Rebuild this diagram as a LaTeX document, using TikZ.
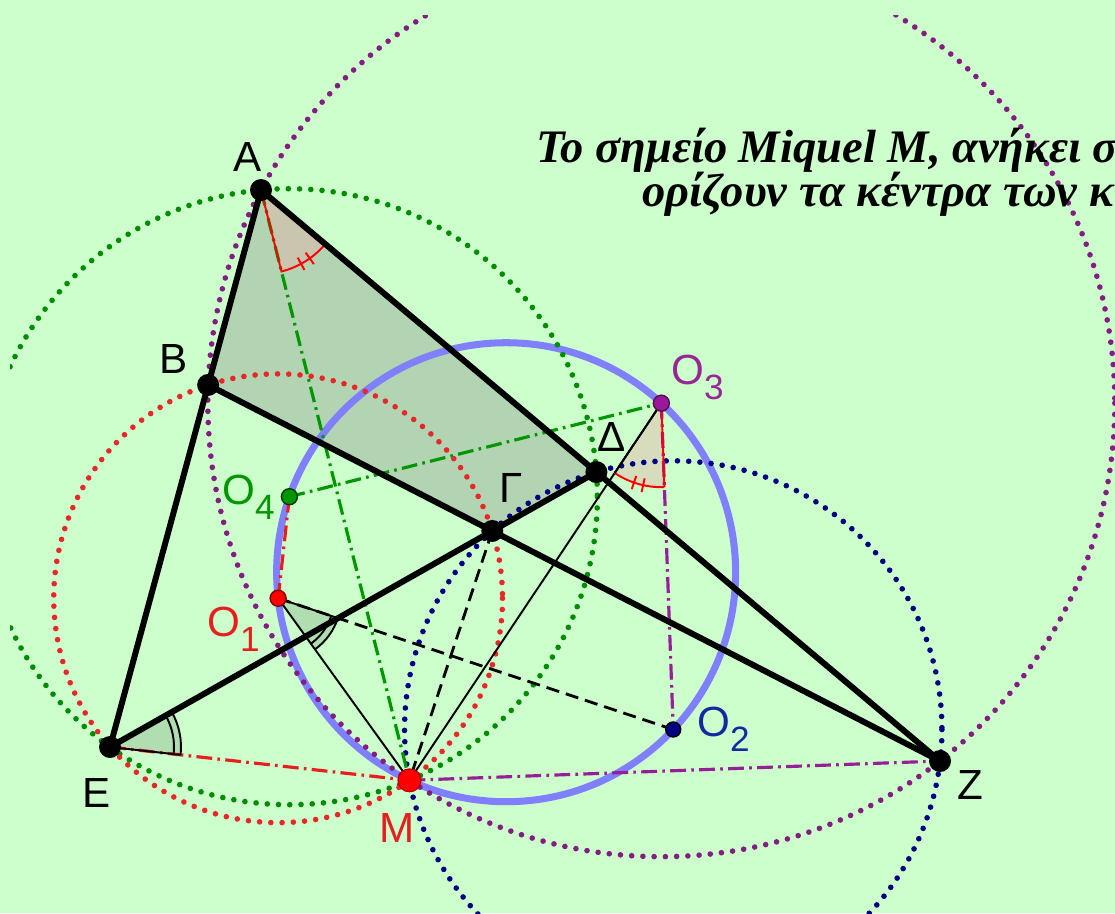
\documentclass[tikz,border=0pt]{standalone}
\usepackage{fontspec}
\setmainfont{Liberation Serif}
\newfontfamily\labfont{Liberation Sans}
\usetikzlibrary{calc}
\definecolor{bgcol}{RGB}{204,255,204}
\definecolor{polycol}{RGB}{178,212,178}
\definecolor{miqcol}{RGB}{128,128,255}
\definecolor{purpcol}{RGB}{130,30,130}
\definecolor{grncol}{RGB}{0,140,0}
\definecolor{redcol}{RGB}{230,40,40}
\definecolor{bluecol}{RGB}{0,0,130}
\definecolor{purpdd}{RGB}{150,30,150}
\definecolor{grndd}{RGB}{0,150,0}
\definecolor{lbred}{RGB}{230,30,30}
\definecolor{lbblue}{RGB}{20,40,160}
\definecolor{lbpurp}{RGB}{150,40,150}
\definecolor{lbgrn}{RGB}{0,150,0}
\definecolor{tancol}{RGB}{230,180,170}
\newcommand{\myidx}[1]{\raisebox{-9pt}{\fontsize{20}{20}\selectfont #1}}
\tikzset{
  dotcirc/.style={line width=3.2pt, dash pattern=on 0pt off 6.4pt, line cap=round},
  dashdot/.style={line width=1.8pt, dash pattern=on 9pt off 3pt on 1.5pt off 3pt},
  dashblack/.style={line width=1.6pt, dash pattern=on 7.5pt off 4pt, black},
  thickline/.style={line width=3.4pt, black, line cap=round},
  thinline/.style={line width=1.1pt, black},
  lab/.style={font=\labfont\fontsize{24}{24}\selectfont, inner sep=0pt},
  ttl/.style={font=\bfseries\itshape\fontsize{26.5}{30}\selectfont, inner sep=0pt, anchor=base west},
  redsector/.style={fill=tancol, fill opacity=0.45},
  graysector/.style={fill=black, fill opacity=0.13},
}
\begin{document}
\begin{tikzpicture}[x=0.02cm, y=-0.02cm]
\useasboundingbox (0,0) rectangle (1115,913);
\fill[bgcol] (0,0) rectangle (1115,913);
% points
\coordinate (A) at (261,190);
\coordinate (B) at (208.15,384.95);
\coordinate (G) at (492.3,530.95);
\coordinate (D) at (596.4,472.1);
\coordinate (E) at (110,747);
\coordinate (Z) at (940,761);
\coordinate (M) at (409.46,780.33);
\coordinate (O1) at (278.13,598.25);
\coordinate (O2) at (673.23,729.5);
\coordinate (O3) at (661.33,403.17);
\coordinate (O4) at (289.4,496.7);
\coordinate (C) at (506.13,572.21);
\begin{scope}
\clip (10,15) rectangle (1115,913);
% shaded quadrilateral
\fill[polycol] (A) -- (B) -- (G) -- (D) -- cycle;
% angle sectors fills
\fill[redsector] (A) -- ($(A)+(40.07:84)$) arc[start angle=40.07, end angle=75.88, radius=84] -- cycle;
\fill[redsector] (O3) -- ($(O3)+(87.91:84)$) arc[start angle=87.91, end angle=123.73, radius=84] -- cycle;
\fill[graysector] (O1) -- ($(O1)+(18.38:63)$) arc[start angle=18.38, end angle=54.19, radius=63] -- cycle;
\fill[graysector] (E) -- ($(E)+(-29.47:71)$) arc[start angle=-29.47, end angle=6.35, radius=71] -- cycle;
% Miquel circle
\draw[miqcol, line width=4pt] (C) circle[radius=229.5];
% dotted circles
\draw[dotcirc, purpcol] (O3) circle[radius=453.5];
\draw[dotcirc, grncol] (O4) circle[radius=308];
\draw[dotcirc, redcol] (O1) circle[radius=224.4];
\draw[dotcirc, bluecol] (O2) circle[radius=268.7];
% dash-dot lines
\draw[dashdot, grndd] (A) -- (M);
\draw[dashdot, grndd] (O4) -- (O3);
\draw[dashdot, lbred] (E) -- (M);
\draw[dashdot, lbred] (O4) -- (O1);
\draw[dashdot, purpdd] (M) -- (Z);
\draw[dashdot, purpdd] (O3) -- (O2);
% dashed black
\draw[dashblack] (O1) -- (O2);
\draw[dashblack] (G) -- (M);
% thin black
\draw[thinline] (O1) -- (M);
\draw[thinline] (O3) -- (M);
% sector borders
\draw[red, line width=1.1pt] (A) -- ($(A)+(75.88:84)$) arc[start angle=75.88, end angle=40.07, radius=84] -- cycle;
\draw[red, line width=1.1pt] ($(A)+(54.5:77)$) -- ($(A)+(54.5:91)$);
\draw[red, line width=1.1pt] ($(A)+(61.5:77)$) -- ($(A)+(61.5:91)$);
\draw[red, line width=1.1pt] ($(O3)+(87.91:84)$) arc[start angle=87.91, end angle=123.73, radius=84];
\draw[red, line width=1.1pt] (O3) -- ($(O3)+(87.91:84)$);
\draw[thinline] (O3) -- ($(O3)+(123.73:84)$);
\draw[red, line width=1.1pt] ($(O3)+(102.5:77)$) -- ($(O3)+(102.5:91)$);
\draw[red, line width=1.1pt] ($(O3)+(109:77)$) -- ($(O3)+(109:91)$);
\draw[thinline] ($(O1)+(18.38:56)$) arc[start angle=18.38, end angle=54.19, radius=56];
\draw[thinline] ($(O1)+(18.38:63)$) arc[start angle=18.38, end angle=54.19, radius=63];
\draw[thinline] (O1) -- ($(O1)+(18.38:63)$);
\draw[thinline] ($(E)+(-29.47:64)$) arc[start angle=-29.47, end angle=6.35, radius=64];
\draw[thinline] ($(E)+(-29.47:71)$) arc[start angle=-29.47, end angle=6.35, radius=71];
\draw[thinline] (E) -- ($(E)+(6.35:71)$);
% thick lines
\draw[thickline] (A) -- (E);
\draw[thickline] (A) -- (Z);
\draw[thickline] (B) -- (Z);
\draw[thickline] (E) -- (D);
% point markers
\foreach \p in {A,B,G,D,E,Z} \fill[black] (\p) circle[radius=11];
\filldraw[fill=red, draw=red!70!black, line width=0.6pt] (M) circle[radius=11.5];
\filldraw[fill=red, draw=red!50!black, line width=0.8pt] (O1) circle[radius=8];
\filldraw[fill=bluecol, draw=black, line width=0.8pt] (O2) circle[radius=7.5];
\filldraw[fill=purpcol!80!magenta, draw=purpcol!60!black, line width=0.8pt] (O3) circle[radius=8];
\filldraw[fill=grndd, draw=black!60!grndd, line width=0.8pt] (O4) circle[radius=8];
\end{scope}
% labels
\node[lab] (lA) at (248,157) {A};
\node[lab] (lB) at (174,359) {B};
\node[lab] (lG) at (511,488) {Γ};
\node[lab] (lD) at (612,437) {Δ};
\node[lab] (lE) at (97,793) {E};
\node[lab] (lZ) at (970,785) {Z};
\node[lab, text=lbred] (lM) at (397,828) {M};
\node[lab, text=lbred, anchor=base west] (lO1) at (207,636) {O\myidx{1}};
\node[lab, text=lbblue, anchor=base west] (lO2) at (697,736) {O\myidx{2}};
\node[lab, text=lbpurp, anchor=base west] (lO3) at (671,384) {O\myidx{3}};
\node[lab, text=lbgrn, anchor=base west] (lO4) at (222,504) {O\myidx{4}};
% title
\node[ttl] (t1) at (536,162) {Το σημείο Miquel M, ανήκει σ};
\node[ttl] (t2) at (642,206) {ορίζουν τα κέντρα των κ};
\end{tikzpicture}
\end{document}
